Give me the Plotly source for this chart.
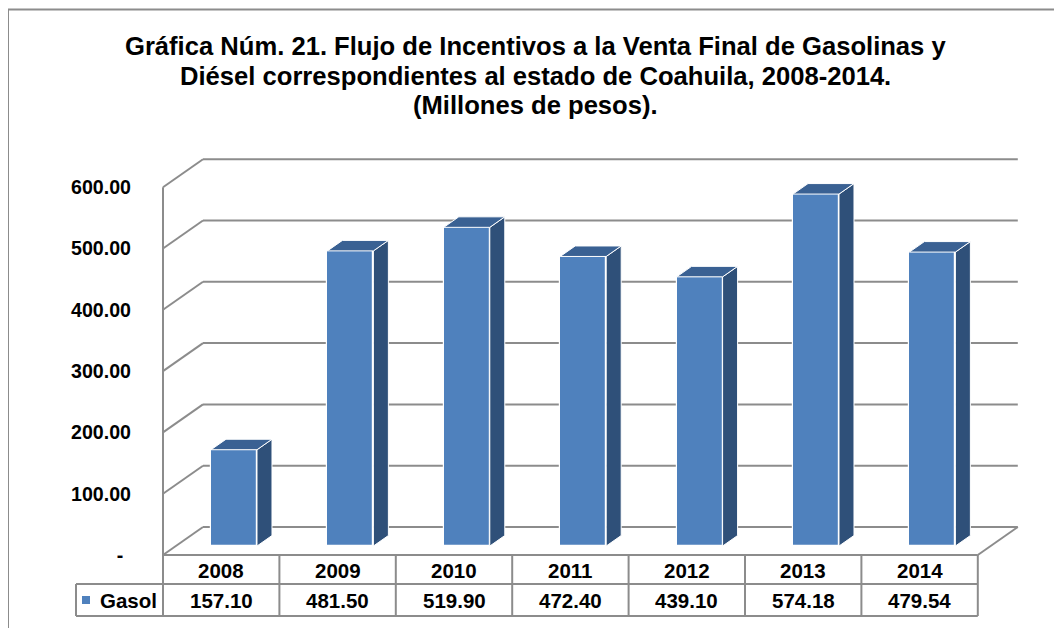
import plotly.graph_objects as go

years = ['2008', '2009', '2010', '2011', '2012', '2013', '2014']
gasol = [157.10, 481.50, 519.90, 472.40, 439.10, 574.18, 479.54]
series_name = 'Gasol'
y_ticks = [0, 100, 200, 300, 400, 500, 600]
y_tick_text = ['-\u2009\u2009', '100.00', '200.00', '300.00', '400.00', '500.00', '600.00']
title_lines = [
    'Gráfica Núm. 21. Flujo de Incentivos a la Venta Final de Gasolinas y',
    'Diésel correspondientes al estado de Coahuila, 2008-2014.',
    '(Millones de pesos).',
]

W, H = 1062, 628
PAGE = 8  # the page body margin shifts the figure on screen
FONT = 'Liberation Sans, Arial, sans-serif'
BLUE, SIDE, TOP = '#4F81BD', '#2F5079', '#3A6193'
GRID = '#8C8C8C'

# geometry of the fake 3D box, in screen pixels
X0_PX, Y0_PX = 163 - PAGE, 555 - PAGE   # front-left floor corner
UX, UY = 116.4, 0.613                   # px per category, px per unit
L_PX, R_PX, T_PX, B_PX = 150, 1016, 142, 554
DX, DY = 40 / UX, 28 / UY               # wall depth in data units
F0, FD, BW = 0.32, 0.375, 0.395         # bar depth start, bar depth, bar width
n = len(years)
ymax = y_ticks[-1]


def pxx(px):
    return (px - PAGE - L_PX) / (R_PX - L_PX)


def pxy(py):
    return (B_PX - (py - PAGE)) / (B_PX - T_PX)


def data_x_px(x):
    return X0_PX + PAGE + (x + 0.5) * UX


xs = [i + F0 * DX for i in range(n)]
base = F0 * DY

fig = go.Figure()
fig.add_trace(go.Bar(x=xs, y=gasol, base=base, width=BW, name=series_name,
                     marker=dict(color=BLUE, line=dict(color='white', width=1.2)),
                     showlegend=False))

side_x, side_y, top_x, top_y = [], [], [], []
for x, v in zip(xs, gasol):
    r, l = x + BW / 2, x - BW / 2
    ddx, ddy = FD * DX, FD * DY
    side_x += [r, r + ddx, r + ddx, r, r, None]
    side_y += [base, base + ddy, base + v + ddy, base + v, base, None]
    top_x += [l, r, r + ddx, l + ddx, l, None]
    top_y += [base + v, base + v, base + v + ddy, base + v + ddy, base + v, None]

fig.add_trace(go.Scatter(x=side_x, y=side_y, fill='toself', fillcolor=SIDE, mode='lines',
                         line=dict(color='white', width=1), showlegend=False, hoverinfo='skip'))
fig.add_trace(go.Scatter(x=top_x, y=top_y, fill='toself', fillcolor=TOP, mode='lines',
                         line=dict(color='white', width=1), showlegend=False, hoverinfo='skip'))

shapes = []
line = dict(color=GRID, width=2)
for v in y_ticks:
    shapes.append(dict(type='line', xref='x', yref='y', x0=-0.5 + DX, x1=n - 0.5 + DX,
                       y0=v + DY, y1=v + DY, line=line, layer='below'))
    shapes.append(dict(type='line', xref='x', yref='y', x0=-0.5, x1=-0.5 + DX,
                       y0=v, y1=v + DY, line=line, layer='below'))
shapes.append(dict(type='line', xref='x', yref='y', x0=-0.5, x1=-0.5, y0=0, y1=ymax,
                   line=line, layer='below'))
shapes.append(dict(type='line', xref='x', yref='y', x0=n - 0.5, x1=n - 0.5 + DX, y0=0, y1=DY,
                   line=line, layer='below'))

# data table under the chart (screen pixel rows)
tbl_left = data_x_px(-0.5)
tbl_right = data_x_px(n - 0.5)
row_top, row_mid, row_bot = 555, 584, 616
legend_left = 76
for y_px, x_from in [(row_top, tbl_left), (row_mid, legend_left), (row_bot, legend_left)]:
    shapes.append(dict(type='line', xref='paper', yref='paper', x0=pxx(x_from), x1=pxx(tbl_right),
                       y0=pxy(y_px), y1=pxy(y_px), line=line))
for k in range(n + 1):
    xp = pxx(data_x_px(k - 0.5))
    shapes.append(dict(type='line', xref='paper', yref='paper', x0=xp, x1=xp,
                       y0=pxy(row_top), y1=pxy(row_bot), line=line))
shapes.append(dict(type='line', xref='paper', yref='paper', x0=pxx(legend_left), x1=pxx(legend_left),
                   y0=pxy(row_mid), y1=pxy(row_bot), line=line))
shapes.append(dict(type='rect', xref='paper', yref='paper', x0=pxx(82), x1=pxx(90),
                   y0=pxy(604), y1=pxy(596), fillcolor=BLUE, line=dict(width=0)))
# outer frame
shapes.append(dict(type='rect', xref='paper', yref='paper', x0=pxx(8), x1=pxx(1090),
                   y0=pxy(9.5), y1=pxy(680), line=dict(color=GRID, width=2)))

annotations = []
for line_txt, y_px in zip(title_lines, [46, 76, 105]):
    annotations.append(dict(text=line_txt, xref='paper', yref='paper', x=pxx(535), y=pxy(y_px),
                            xanchor='center', yanchor='middle', showarrow=False,
                            font=dict(family=FONT, size=25.6, color='black', weight='bold')))
tfont = dict(family=FONT, size=20.5, color='black', weight='bold')
for i, (yr, v) in enumerate(zip(years, gasol)):
    annotations.append(dict(text=yr, xref='x', yref='paper', x=i, y=pxy(570),
                            xanchor='center', yanchor='middle', showarrow=False, font=tfont))
    annotations.append(dict(text=f'{v:.2f}', xref='x', yref='paper', x=i, y=pxy(600),
                            xanchor='center', yanchor='middle', showarrow=False, font=tfont))
annotations.append(dict(text=series_name, xref='paper', yref='paper', x=pxx(98), y=pxy(600),
                        xanchor='left', yanchor='middle', showarrow=False, font=tfont))

fig.update_layout(
    width=W, height=H,
    margin=dict(l=L_PX, r=W - R_PX, t=T_PX, b=H - B_PX),
    paper_bgcolor='white', plot_bgcolor='white',
    shapes=shapes, annotations=annotations,
    xaxis=dict(range=[-0.5 - (X0_PX - L_PX) / UX, -0.5 + (R_PX - X0_PX) / UX],
               visible=False, fixedrange=True),
    yaxis=dict(range=[-(B_PX - Y0_PX) / UY, (Y0_PX - T_PX) / UY],
               tickvals=y_ticks, ticktext=y_tick_text, showgrid=False, zeroline=False,
               showline=False, ticks='', ticklabelstandoff=(X0_PX - L_PX) + 21,
               tickfont=dict(family=FONT, size=19.6, color='black', weight='bold')),
    bargap=0,
)

fig.write_html('out.html')
